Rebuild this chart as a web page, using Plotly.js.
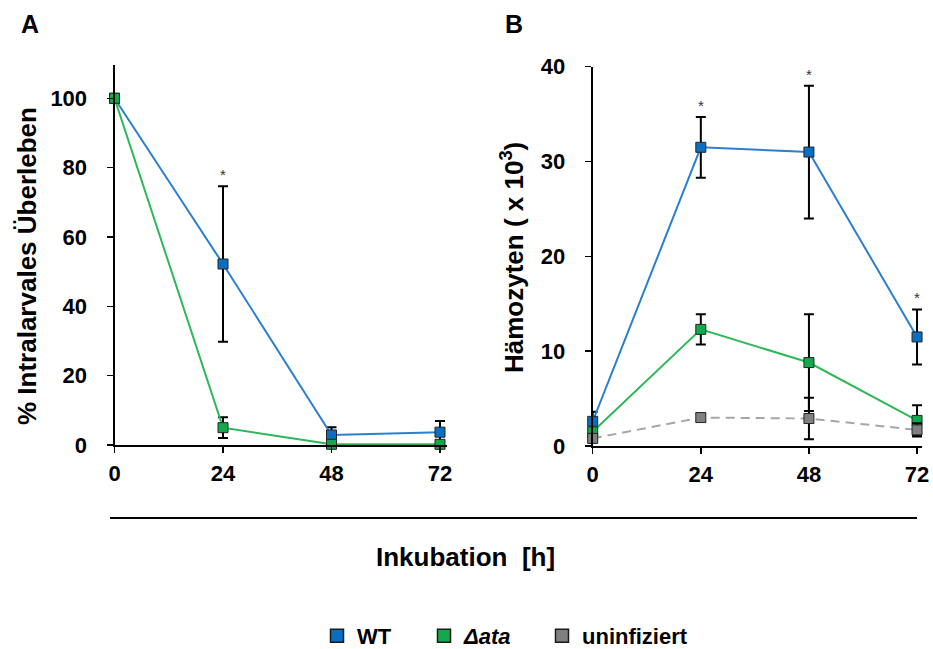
<!DOCTYPE html>
<html>
<head>
<meta charset="utf-8">
<script src="https://cdn.plot.ly/plotly-3.0.1.min.js"></script>
<style>html,body{margin:0;padding:0;background:#fff;}#chart{width:933px;height:649px;}</style>
</head>
<body>
<div id="chart"></div>
<script>
// ---- data ----
var hours = [0, 24, 48, 72];
var tickLabels = ['0', '24', '48', '72'];

// Panel A: % Intralarvales Überleben
var survWT = [100, 52.2, 2.9, 3.7];
var survWTErr = [0, 22.4, 2.2, 3.2];
var survAta = [100, 5.0, 0.2, 0.2];
var survAtaErr = [0, 3.0, 0, 0];
var survSig = [false, true, false, false];

// Panel B: Hämozyten (x 10^3)
var haemWT = [2.6, 31.5, 31.0, 11.5];
var haemWTErr = [1.0, 3.2, 7.0, 2.9];
var haemAta = [1.5, 12.3, 8.8, 2.7];
var haemAtaErr = [0.4, 1.6, 5.1, 1.6];
var haemUninf = [0.8, 3.0, 2.9, 1.7];
var haemUninfErr = [0.2, 0.4, 2.2, 0.7];
var haemSig = [false, true, true, true];

var seriesNames = ['WT', '<i>Δata</i>', 'uninfiziert'];

// ---- styles ----
var cBlueM = '#0a6fc2', cBlueL = '#2b7fcf';
var cGreenM = '#12a84c', cGreenL = '#2db957';
var cGrayM = '#808080', cGrayL = '#a6a6a6';
var mLine = {color: '#262626', width: 1};
var eb = function (arr) { return {type: 'data', array: arr, visible: true, color: '#000', thickness: 2, width: 5}; };

function tr(x, y, err, xa, ya, lc, mc, dash) {
  return {
    x: x, y: y, xaxis: xa, yaxis: ya, type: 'scatter', mode: 'lines+markers',
    line: {color: lc, width: 2, dash: dash || 'solid'},
    marker: {symbol: 'square', size: 10, color: mc, line: mLine},
    error_y: eb(err), showlegend: false, cliponaxis: false, hoverinfo: 'x+y'
  };
}

var data = [
  tr(hours, survWT, survWTErr, 'x', 'y', cBlueL, cBlueM),
  tr(hours, survAta, survAtaErr, 'x', 'y', cGreenL, cGreenM),
  tr(hours, haemWT, haemWTErr, 'x2', 'y2', cBlueL, cBlueM),
  tr(hours, haemAta, haemAtaErr, 'x2', 'y2', cGreenL, cGreenM),
  tr(hours, haemUninf, haemUninfErr, 'x2', 'y2', cGrayL, cGrayM, '9px,6px')
];

var fontFam = '"Liberation Sans", Arial, sans-serif';

// legend-only traces, each in its own legend box
var legendIds = ['legend', 'legend2', 'legend3'];
var legendXpx = [317, 424, 542];
[cBlueM, cGreenM, cGrayM].forEach(function (c, i) {
  data.push({x: [null], y: [null], type: 'scatter', mode: 'markers', name: seriesNames[i],
    marker: {symbol: 'square', size: 13, color: c, line: {color: '#1a1a1a', width: 1.5}},
    showlegend: true, legend: legendIds[i], xaxis: 'x', yaxis: 'y'});
});

function axisCommon(extra) {
  var a = {
    showline: true, linecolor: '#000', linewidth: 2, ticks: 'outside', ticklen: 6, tickwidth: 1.5,
    tickcolor: '#000', showgrid: false, zeroline: false, fixedrange: true,
    tickfont: {family: fontFam, size: 22, color: '#000', weight: 'bold'}
  };
  for (var k in extra) a[k] = extra[k];
  return a;
}

var annotations = [];
function sigMarks(vals, errs, sig, xa, ya) {
  for (var i = 0; i < vals.length; i++) {
    if (sig[i]) annotations.push({x: hours[i], y: vals[i] + errs[i], xref: xa, yref: ya, text: '*',
      showarrow: false, yanchor: 'bottom', xanchor: 'center', yshift: 1, font: {family: fontFam, size: 15, color: '#333333'}});
  }
}
sigMarks(survWT, survWTErr, survSig, 'x', 'y');
sigMarks(haemWT, haemWTErr, haemSig, 'x2', 'y2');

function paperText(txt, xpx, ypx, size, angle) {
  return {text: txt, xref: 'paper', yref: 'paper', x: xpx / 933, y: 1 - ypx / 649, showarrow: false,
    xanchor: 'center', yanchor: 'middle', textangle: angle || 0,
    font: {family: fontFam, size: size, color: '#000'}};
}
annotations.push(
  paperText('<b>A</b>', 30, 24, 25),
  paperText('<b>B</b>', 514, 24, 25),
  paperText('<b>% Intralarvales Überleben</b>', 27, 266, 26, -90),
  paperText('<b>Hämozyten ( x 10<sup>3</sup>)</b>', 512, 258, 26, -90),
  paperText('<b>Inkubation  [h]</b>', 465, 557, 26)
);

var layout = {
  width: 933, height: 649,
  margin: {l: 0, r: 0, t: 0, b: 0, autoexpand: false},
  paper_bgcolor: '#fff', plot_bgcolor: '#fff',
  font: {family: fontFam, color: '#000'},
  xaxis: axisCommon({domain: [114.5 / 933, 447 / 933], range: [0, 73.55], tickvals: hours, ticktext: tickLabels,
    anchor: 'y', ticklabelstandoff: 2}),
  yaxis: axisCommon({domain: [1 - 445 / 649, 1 - 65 / 649], range: [0, 109.6], tickvals: [0, 20, 40, 60, 80, 100],
    anchor: 'x', ticklabelstandoff: 15}),
  xaxis2: axisCommon({domain: [592.7 / 933, 922 / 933], range: [0, 73.1], tickvals: hours, ticktext: tickLabels,
    anchor: 'y2', ticklabelstandoff: 2}),
  yaxis2: axisCommon({domain: [1 - 446 / 649, 1 - 66.7 / 649], range: [0, 40], tickvals: [0, 10, 20, 30, 40],
    anchor: 'x2', ticklabelstandoff: 15}),
  shapes: [
    {type: 'line', xref: 'paper', yref: 'paper', x0: 110 / 933, x1: 917 / 933, y0: 1 - 518 / 649, y1: 1 - 518 / 649,
      line: {color: '#000', width: 2}}
  ],
  annotations: annotations,
  showlegend: true
};
legendIds.forEach(function (id, i) {
  layout[id] = {orientation: 'h', x: legendXpx[i] / 933, xanchor: 'left', y: 1 - 636 / 649, yanchor: 'middle',
    font: {family: fontFam, size: 22, color: '#000', weight: 'bold'},
    bgcolor: 'rgba(0,0,0,0)', borderwidth: 0};
});

Plotly.newPlot('chart', data, layout, {displayModeBar: false, staticPlot: true});
</script>
</body>
</html>
